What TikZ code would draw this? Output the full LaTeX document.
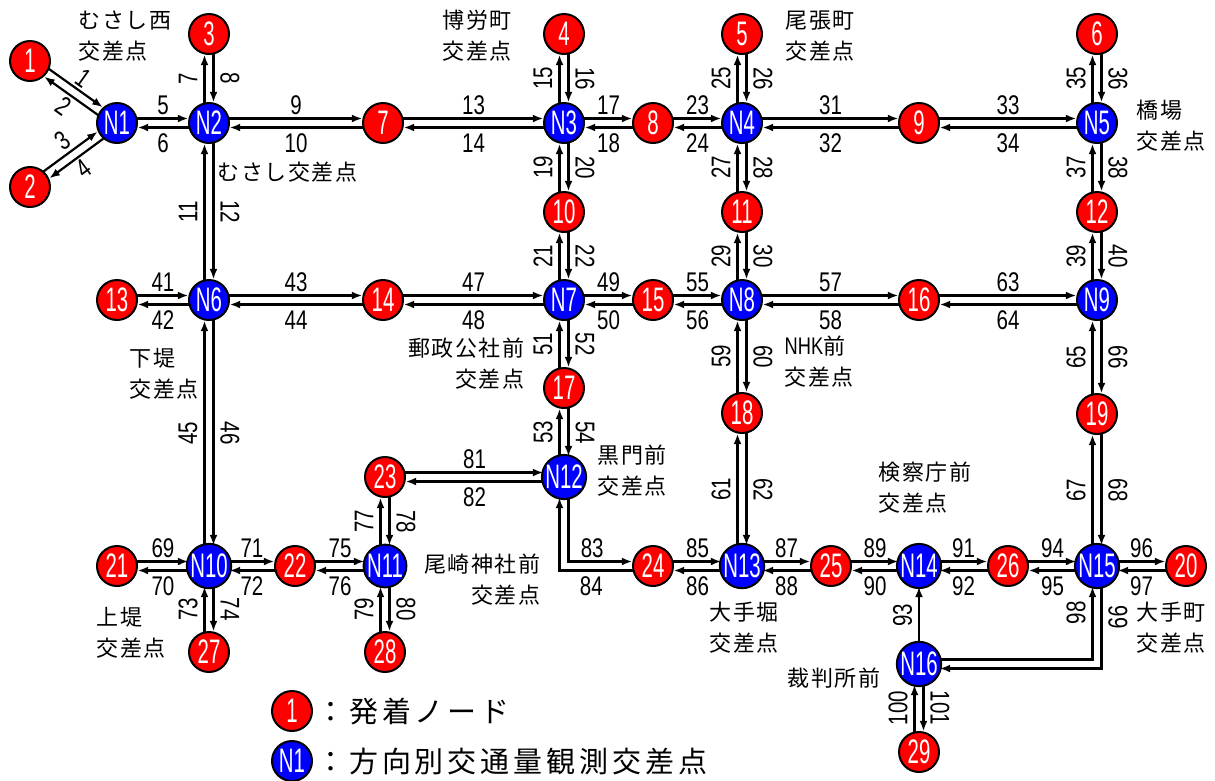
\documentclass[tikz,border=0pt]{standalone}
\usepackage{fontspec}
\usetikzlibrary{arrows.meta,calc}
\newfontfamily\jpfont[LetterSpace=7]{Noto Sans CJK JP}
\newfontfamily\jpbig[LetterSpace=13.5]{Noto Sans CJK JP}
\newfontfamily\numfont[FakeStretch=0.76]{Liberation Sans}
\newfontfamily\circfont[FakeStretch=0.6]{Liberation Sans}
\pgfdeclarelayer{bg}
\pgfsetlayers{bg,main}
\tikzset{
  od/.style={circle, draw=black, line width=2pt, fill=red, minimum size=40pt, inner sep=0pt, text=white, font=\circfont\fontsize{34}{34}\selectfont},
  obs/.style={od, fill=blue},
  conn/.style={line width=2.2pt, -{Latex[length=10.5pt,width=8pt]}, shorten <=15pt, shorten >=20.7pt},
  lab/.style={font=\numfont\fontsize{27}{27}\selectfont, inner sep=0pt},
  tl/.style={lab, anchor=south, yshift=3pt},
  bl/.style={lab, anchor=north, yshift=-5.5pt},
  ll/.style={lab, xshift=-16.5pt, rotate=90},
  rl/.style={lab, xshift=16.5pt, rotate=-90},
  jp/.style={font=\jpfont\fontsize{22}{31}\selectfont, inner sep=0pt},
  legend/.style={font=\jpbig\fontsize{29}{29}\selectfont, inner sep=0pt, anchor=west},
}
\newcommand\hp[4]{%
  \draw[conn] ([yshift=4.5pt]#1.center) -- node[tl]{#3} ([yshift=4.5pt]#2.center);
  \draw[conn] ([yshift=-4.5pt]#2.center) -- node[bl]{#4} ([yshift=-4.5pt]#1.center);}
\newcommand\vp[4]{%
  \draw[conn] ([xshift=-4.5pt]#2.center) -- node[ll]{#3} ([xshift=-4.5pt]#1.center);
  \draw[conn] ([xshift=4.5pt]#1.center) -- node[rl]{#4} ([xshift=4.5pt]#2.center);}
\begin{document}
\begin{tikzpicture}[x=1pt,y=-1pt]
\useasboundingbox (0,0) rectangle (1215,780);
% origin / destination nodes
\node[od] (n1) at (30,61) {1};
\node[od] (n2) at (30,187) {2};
\node[od] (n3) at (209,34) {3};
\node[od] (n4) at (564,34) {4};
\node[od] (n5) at (742,34) {5};
\node[od] (n6) at (1097,34) {6};
\node[od] (n7) at (383,123) {7};
\node[od] (n8) at (653,123) {8};
\node[od] (n9) at (919,123) {9};
\node[od] (n10) at (564,212) {10};
\node[od] (n11) at (742,212) {11};
\node[od] (n12) at (1097,212) {12};
\node[od] (n13) at (117,300) {13};
\node[od] (n14) at (383,300) {14};
\node[od] (n15) at (653,300) {15};
\node[od] (n16) at (919,300) {16};
\node[od] (n17) at (564,388) {17};
\node[od] (n18) at (742,413) {18};
\node[od] (n19) at (1097,414) {19};
\node[od] (n20) at (1186,566) {20};
\node[od] (n21) at (117,566) {21};
\node[od] (n22) at (295,566) {22};
\node[od] (n23) at (385,477) {23};
\node[od] (n24) at (653,566) {24};
\node[od] (n25) at (831,566) {25};
\node[od] (n26) at (1008,566) {26};
\node[od] (n27) at (209,652) {27};
\node[od] (n28) at (385,652) {28};
\node[od] (n29) at (919,752) {29};
% observed intersections
\node[obs] (N1) at (117,123) {N1};
\node[obs] (N2) at (209,123) {N2};
\node[obs] (N3) at (564,123) {N3};
\node[obs] (N4) at (742,123) {N4};
\node[obs] (N5) at (1097,123) {N5};
\node[obs] (N6) at (209,300) {N6};
\node[obs] (N7) at (564,300) {N7};
\node[obs] (N8) at (742,300) {N8};
\node[obs] (N9) at (1097,300) {N9};
\node[obs] (N10) at (209,566) {N10};
\node[obs] (N11) at (385,566) {N11};
\node[obs] (N12) at (564,477) {N12};
\node[obs] (N13) at (742,566) {N13};
\node[obs] (N14) at (919,566) {N14};
\node[obs] (N15) at (1097,566) {N15};
\node[obs] (N16) at (919,664) {N16};
% legend
\node[od] (lg1) at (292,711) {1};
\node[obs] (lg2) at (292,761) {N1};
\node[legend] (lt1) at (316,711) {：発着ノード};
\node[legend] (lt2) at (316,761) {：方向別交通量観測交差点};
% intersection names
\node[jp, anchor=west, align=left] (t1) at (78.5,36.5) {むさし西\\交差点};
\node[jp, anchor=west, align=left] (t2) at (442.5,36) {博労町\\交差点};
\node[jp, anchor=west, align=left] (t3) at (785.5,36) {尾張町\\交差点};
\node[jp, anchor=west, align=left] (t4) at (1136.5,125.5) {橋場\\交差点};
\node[jp, anchor=west] (t5) at (217.5,172) {むさし交差点};
\node[jp, anchor=west, align=left] (t6) at (129.5,374) {下堤\\交差点};
\node[jp, anchor=east, align=right] (t7) at (524.5,364) {郵政公社前\\交差点};
\node[jp, anchor=west, align=left] (t8) at (784.5,362) {{\numfont\fontsize{24}{24}\selectfont NHK}前\\交差点};
\node[jp, anchor=west, align=left] (t9) at (597.5,471) {黒門前\\交差点};
\node[jp, anchor=east, align=right] (t10) at (540.5,580) {尾崎神社前\\交差点};
\node[jp, anchor=west, align=left] (t11) at (709.5,628) {大手堀\\交差点};
\node[jp, anchor=west, align=left] (t12) at (878.5,487.5) {検察庁前\\交差点};
\node[jp, anchor=west, align=left] (t13) at (1136.5,628) {大手町\\交差点};
\node[jp, anchor=west, align=left] (t14) at (96.5,632.5) {上堤\\交差点};
\node[jp, anchor=west] (t15) at (787.5,678) {裁判所前};
\begin{pgfonlayer}{bg}
% diagonal links at N1
\draw[conn] ([shift={(54.5:4.5pt)}]n1.center) -- node[lab, sloped, anchor=south, inner sep=2.5pt]{1} ([shift={(54.5:4.5pt)}]N1.center);
\draw[conn] ([shift={(234.5:4.5pt)}]N1.center) -- node[lab, sloped, anchor=north, inner sep=2.5pt]{2} ([shift={(234.5:4.5pt)}]n1.center);
\draw[conn] ([shift={(126.3:4.5pt)}]n2.center) -- node[lab, sloped, anchor=south, inner sep=2.5pt]{3} ([shift={(126.3:4.5pt)}]N1.center);
\draw[conn] ([shift={(-53.7:4.5pt)}]N1.center) -- node[lab, sloped, anchor=north, inner sep=2.5pt]{4} ([shift={(-53.7:4.5pt)}]n2.center);
% horizontal pairs
\hp{N1}{N2}{5}{6}
\hp{N2}{n7}{9}{10}
\hp{n7}{N3}{13}{14}
\hp{N3}{n8}{17}{18}
\hp{n8}{N4}{23}{24}
\hp{N4}{n9}{31}{32}
\hp{n9}{N5}{33}{34}
\hp{n13}{N6}{41}{42}
\hp{N6}{n14}{43}{44}
\hp{n14}{N7}{47}{48}
\hp{N7}{n15}{49}{50}
\hp{n15}{N8}{55}{56}
\hp{N8}{n16}{57}{58}
\hp{n16}{N9}{63}{64}
\hp{n23}{N12}{81}{82}
\hp{n21}{N10}{69}{70}
\hp{N10}{n22}{71}{72}
\hp{n22}{N11}{75}{76}
\hp{n24}{N13}{85}{86}
\hp{N13}{n25}{87}{88}
\hp{n25}{N14}{89}{90}
\hp{N14}{n26}{91}{92}
\hp{n26}{N15}{94}{95}
\hp{N15}{n20}{96}{97}
% vertical pairs
\vp{n3}{N2}{7}{8}
\vp{n4}{N3}{15}{16}
\vp{n5}{N4}{25}{26}
\vp{n6}{N5}{35}{36}
\vp{N2}{N6}{11}{12}
\vp{N3}{n10}{19}{20}
\vp{N4}{n11}{27}{28}
\vp{N5}{n12}{37}{38}
\vp{n10}{N7}{21}{22}
\vp{n11}{N8}{29}{30}
\vp{n12}{N9}{39}{40}
\vp{N7}{n17}{51}{52}
\vp{N8}{n18}{59}{60}
\vp{N9}{n19}{65}{66}
\vp{N6}{N10}{45}{46}
\vp{n17}{N12}{53}{54}
\vp{n18}{N13}{61}{62}
\vp{n19}{N15}{67}{68}
\vp{n23}{N11}{77}{78}
\vp{N10}{n27}{73}{74}
\vp{N11}{n28}{79}{80}
\vp{N16}{n29}{100}{101}
% bent links
\draw[conn] ([xshift=4.5pt]N12.center) |- node[tl, pos=0.64]{83} ([yshift=4.5pt]n24.center);
\draw[conn] ([yshift=-4.5pt]n24.center) -| node[bl, pos=0.33]{84} ([xshift=-4.5pt]N12.center);
\draw[conn] ([yshift=4.5pt]N16.center) -| node[ll, pos=0.75]{98} ([xshift=-4.5pt]N15.center);
\draw[conn] ([xshift=4.5pt]N15.center) |- node[rl, pos=0.25]{99} ([yshift=-4.5pt]N16.center);
\draw[conn] (N16.center) -- node[ll]{93} (N14.center);
\end{pgfonlayer}
\end{tikzpicture}
\end{document}
